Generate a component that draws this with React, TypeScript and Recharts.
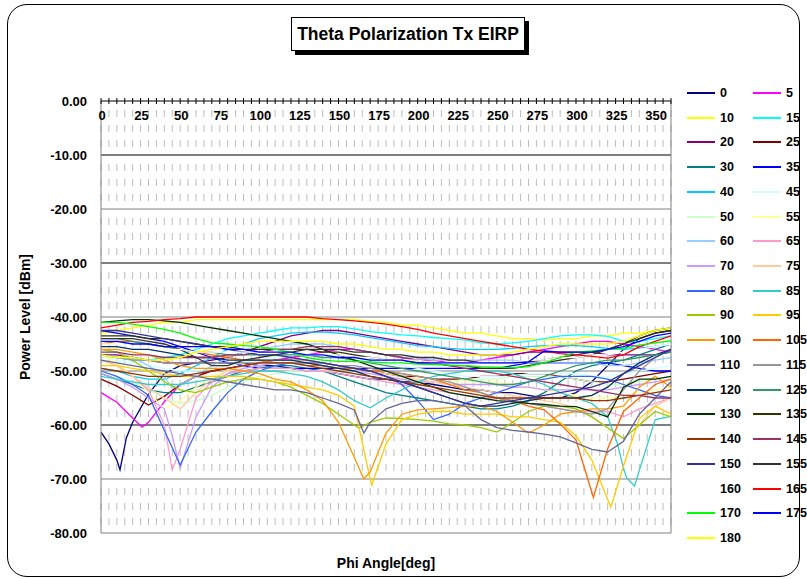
import { CartesianGrid, Line, LineChart, ReferenceLine, XAxis, YAxis } from "recharts";

const FONT = '"Liberation Sans", Arial, sans-serif';

// phi grid (deg) shared by all traces, 10 deg step
const PHI = [0, 10, 20, 30, 40, 50, 60, 70, 80, 90, 100, 110, 120, 130, 140, 150, 160, 170, 180, 190, 200, 210, 220, 230, 240, 250, 260, 270, 280, 290, 300, 310, 320, 330, 340, 350, 360];
const X_TICKS = Array.from({ length: 73 }, (_, i) => i * 5);
const X_LABELS = [0, 25, 50, 75, 100, 125, 150, 175, 200, 225, 250, 275, 300, 325, 350];
const Y_TICKS = [0, -10, -20, -30, -40, -50, -60, -70, -80];

const NAMES = ["0", "5", "10", "15", "20", "25", "30", "35", "40", "45", "50", "55", "60", "65", "70", "75", "80", "85", "90", "95", "100", "105", "110", "115", "120", "125", "130", "135", "140", "145", "150", "155", "160", "165", "170", "175", "180"];

const COLORS = ["#000080", "#FF00FF", "#FFFF00", "#00FFFF", "#800080", "#800000", "#008080", "#0000FF", "#00CCFF", "#CCFFFF", "#CCFFCC", "#FFFF99", "#99CCFF", "#FF99CC", "#CC99FF", "#FFCC99", "#3366FF", "#33CCCC", "#99CC00", "#FFCC00", "#FF9900", "#FF6600", "#666699", "#969696", "#003366", "#339966", "#003300", "#333300", "#993300", "#993366", "#333399", "#333333", "#FFFFFF", "#FF0000", "#00FF00", "#0000FF", "#FFFF00"];

// EIRP [dBm] per theta, on PHI
const s0 = [-61.3, -66.5, -59.5, -54.3, -50.5, -49, -48.5, -48.5, -48.5, -48.5, -49, -49, -49.5, -50, -50, -50.5, -51, -51.5, -51.5, -52, -52, -52.5, -53, -53.5, -53.5, -54, -54, -54.5, -55, -55, -54, -52, -49, -46, -44, -43, -42.5];
const s5 = [-54, -55.8, -58.7, -59.5, -55.7, -52.5, -51, -50, -49.5, -49, -48.5, -48, -47.5, -47, -46.5, -46, -46, -46.5, -47, -47.5, -48, -48, -48.5, -48.5, -48, -47.5, -47, -46.5, -46, -45.5, -45, -44.5, -44.5, -45, -45.5, -46, -46.5];
const s10 = [-43, -42.5, -42, -41.5, -41, -41, -40.5, -40.5, -40.5, -40.5, -40.5, -40.5, -40.5, -40.5, -40.5, -40.5, -40.5, -40.8, -41, -41.5, -41.5, -42, -42.5, -43, -43, -43.5, -44, -44, -44.3, -44, -44, -43.5, -43.5, -43, -43, -42.5, -42];
const s15 = [-47, -47.5, -48, -48, -47.5, -47, -46, -45, -44, -43.5, -43, -42.5, -42, -42, -41.8, -41.8, -42.2, -42.7, -43, -43.3, -43.5, -43.8, -44, -44.3, -44.8, -45, -44.8, -44.5, -44, -43.5, -43.3, -43.3, -43.6, -44.5, -44.5, -44, -43.5];
const s20 = [-47, -47, -47.5, -48, -48.5, -48.5, -48.5, -48, -47.5, -46.5, -45.5, -44.5, -43.5, -43, -42.5, -42.5, -43, -43.5, -44, -44.5, -45, -45.5, -46, -46.5, -47, -47, -47, -46.5, -46.5, -46.5, -46.5, -46.5, -47, -47, -47, -47, -46.5];
const s25 = [-51.5, -52.8, -54.5, -56.3, -54.7, -52.5, -51, -50, -49.5, -49, -48.5, -48, -48, -48, -48.5, -49, -49.5, -50, -50.5, -51, -51, -51.5, -51.5, -51.5, -51, -51, -50.5, -50.5, -50.5, -51, -51.5, -52, -52, -51.5, -51, -50.5, -50];
const s30 = [-50.5, -51.5, -52.5, -53.5, -54, -54, -53, -52, -51, -50, -49.5, -49, -49, -49.5, -50, -51, -52, -53, -54, -54.5, -55, -55.5, -56, -56.5, -57, -57, -56.5, -55.5, -54, -52, -50, -49, -48.5, -48, -47, -46, -45];
const s35 = [-42.5, -43, -43.5, -44, -44.5, -45.5, -46.5, -47.5, -48.5, -49, -49.5, -49.5, -49.5, -49.5, -49.5, -49.5, -49.5, -49.5, -49.5, -49.5, -49.5, -49.5, -49.5, -49.5, -49.5, -49.5, -49, -48.5, -48.5, -48.5, -48.5, -48.5, -48.5, -49, -49.5, -50, -50];
const s40 = [-49.5, -50, -51, -51.5, -51.5, -50.5, -49, -47.5, -46, -45, -44, -43.5, -43, -42.8, -42.8, -43, -43.3, -43.8, -44.3, -44.8, -45.3, -45.5, -45.8, -46, -46, -46, -45.8, -45.5, -45.3, -45.3, -45.3, -45.5, -45.8, -46, -45.8, -45.5, -45];
const s45 = [-47.5, -48, -48.5, -49, -49.5, -50, -50, -49.5, -49, -48.5, -48, -47.5, -47, -47, -47, -47, -47.5, -48, -48.5, -49, -49.5, -50, -50.5, -51, -51, -51, -51, -50.5, -50.5, -50.5, -50.5, -51, -51, -50.5, -50, -49.5, -49];
const s50 = [-50, -51, -52, -53.5, -55, -56, -55.5, -54.5, -53, -52, -51, -50.5, -50, -50, -50, -50, -50.5, -51, -51.5, -51.5, -52, -52, -52, -51.5, -51.5, -51.5, -51, -51, -51, -51, -51.5, -52, -52.5, -52.5, -52, -51.5, -51];
const s55 = [-47, -48.5, -51, -54, -57, -55.5, -53, -51, -50, -49.5, -49, -48.5, -48.5, -48.5, -49, -49.5, -50, -50.5, -51, -51.5, -52, -52, -52, -52, -52, -52, -52.5, -53, -53.5, -54, -54.5, -55, -55, -54.5, -54, -53.5, -53];
const s60 = [-46, -46.5, -47.5, -49, -51, -52.5, -51, -49, -47.5, -46.5, -46, -45.5, -45, -45, -45, -45.5, -46, -46.5, -47, -47.5, -47.5, -48, -48, -48, -48, -48, -48, -48.5, -48.5, -48.5, -48.5, -48.5, -49, -49, -48.5, -48, -47.5];
const s65 = [-48, -49, -51, -53.5, -60, -64.5, -55, -52, -50.5, -50, -49.5, -49.5, -49.5, -50, -50, -50.5, -51, -51.5, -52, -52.5, -53, -53.5, -54, -54.5, -55, -55, -55.5, -56, -56.5, -57, -57.5, -57.5, -57.5, -58.5, -57, -56, -55];
const s70 = [-50.5, -51.5, -53, -55, -57, -68, -58.5, -53, -50.5, -49.5, -49, -48.5, -48.5, -48.5, -49, -49.5, -50, -50.5, -51, -51.5, -52, -52, -52.5, -52.5, -52.5, -52.5, -53, -53, -53.5, -53.5, -53.5, -53.5, -53.5, -53, -52.5, -52, -51.5];
const s75 = [-48, -49, -51, -53, -55, -57, -54, -51.5, -50, -49, -48.5, -48, -48, -48, -48.5, -49, -49.5, -50, -50.5, -51, -51.5, -52, -52.5, -53, -53.5, -54, -54.5, -55, -55.5, -56, -57, -58.5, -60.5, -62.5, -60, -56.5, -55];
const s80 = [-50, -51, -52.5, -54.5, -61, -67.4, -61.3, -57.5, -54, -51.5, -50, -49, -48.5, -48.5, -48.5, -49, -49.5, -50, -51, -52.5, -55.5, -59, -58, -56, -55, -54, -53, -52, -51.5, -51, -51, -51, -51.5, -52.5, -53.5, -54.5, -55];
const s85 = [-51, -51.5, -52, -52.5, -52.5, -52.5, -52, -51.5, -51, -50.5, -50, -50, -50.5, -51, -52, -53.5, -55.5, -56.8, -55, -53.5, -52, -51, -50.5, -50, -50, -50, -50.5, -51.5, -52.5, -54, -55, -56, -58.5, -68, -68.4, -59, -58.4];
const s90 = [-46, -46.5, -48, -50, -52, -53.5, -54, -53, -52, -51.5, -51.5, -52, -53, -54.5, -56, -58, -60, -59.5, -58.7, -58.8, -59, -59.3, -59.8, -60, -60.5, -61.3, -59.5, -57.5, -56.5, -56.5, -57, -58.5, -60.5, -62.5, -60, -57.5, -58.5];
const s95 = [-49, -49, -49.5, -50, -50.5, -51, -51, -51, -51, -51, -51.5, -52, -52.5, -53, -53.5, -54.5, -56.5, -70, -63.5, -59, -58, -57.5, -57.5, -58, -58, -58, -58.5, -58.5, -59, -59.5, -62, -66.5, -73.8, -67.6, -58.8, -56.5, -58];
const s100 = [-46, -46, -46.5, -47, -48, -49, -49.5, -49.5, -49.5, -50, -50.5, -51.5, -52, -53.5, -55.5, -59.5, -66, -68.7, -61.5, -58, -57.2, -57, -56.8, -56.5, -56.5, -57.5, -59.5, -61.5, -60, -58, -57.5, -57, -57, -56.5, -53, -51, -53];
const s105 = [-45, -44.5, -44.5, -45, -45.5, -46, -46.5, -47, -47.5, -48, -48, -48.5, -48.5, -49, -49, -49.5, -49.5, -50, -50, -50.5, -51, -51.5, -52.5, -53.5, -54, -55, -55.5, -56.5, -57.2, -59.8, -62.8, -72.5, -64.4, -57.5, -55, -52.5, -51.5];
const s110 = [-48, -48.5, -49, -49.5, -50, -50.5, -51, -51.5, -52, -52.5, -53, -53.5, -53.5, -54, -55, -56, -57.2, -59.5, -57, -56, -55.5, -55.5, -56, -56.5, -59, -60.5, -61, -61.3, -61.7, -62.2, -63.3, -64.5, -65, -63, -58, -55, -52];
const s115 = [-47, -47.5, -48, -48, -48.5, -48.5, -48.5, -48.5, -48.5, -48.5, -48.5, -48.5, -48.5, -48.5, -48.5, -49, -49, -49.5, -50, -50.5, -51, -51.5, -52, -53, -54, -55, -55.5, -56, -56.5, -57, -57.5, -58, -57, -53.5, -50, -47.5, -46];
const s120 = [-45.5, -45.5, -46, -46, -46.5, -47, -47.5, -47.5, -48, -48, -48, -48, -48, -48.5, -49, -49.5, -50, -51, -51.5, -52, -53, -54, -55, -56, -56.5, -56.5, -56, -55.5, -55, -55, -55, -54.5, -53, -50.5, -48.5, -47, -46];
const s125 = [-44, -44, -44.5, -45, -45.5, -46, -46.5, -46.5, -47, -47, -47, -47, -47, -47, -47.5, -47.5, -48, -48.5, -49, -49.5, -50, -50.5, -51, -51.5, -52, -52.5, -52.5, -52, -51, -50, -49, -48.5, -48, -48, -47.5, -47, -46.5];
const s130 = [-41, -40.7, -40.5, -40.5, -40.7, -41, -41.5, -42, -42.5, -43, -43.5, -44, -44.5, -45, -46, -47, -48, -49, -50, -51, -52, -53, -54, -54.5, -55, -55.5, -55.7, -56, -56.2, -56.5, -56.6, -57.5, -58.5, -53, -51.5, -51.5, -51];
const s135 = [-43.5, -43.5, -43.5, -44, -44, -44.5, -45, -45.5, -45.5, -46, -46, -46, -46, -46, -46.5, -46.5, -47, -47.5, -48, -48, -48.5, -48.5, -49, -49, -49.5, -49.5, -49.5, -49, -48.5, -48, -47.5, -47, -46, -45, -44, -43, -42.5];
const s140 = [-49.5, -50, -50.5, -51, -51, -51, -50.5, -50, -49.5, -49, -48.5, -48.5, -48.5, -49, -49.5, -50, -50.5, -51, -51.5, -52, -52.5, -53, -53.5, -54, -54.5, -55, -55, -55, -55, -55, -55, -55.5, -55.5, -55, -54.5, -54, -53.5];
const s145 = [-46.5, -46.5, -47, -47, -47.5, -47.5, -47.5, -47.5, -47, -47, -46.5, -46, -46, -45.5, -45.5, -45.5, -46, -46.5, -47, -47.5, -48, -48.5, -49, -49.5, -50, -50.5, -51, -51.5, -52, -52.5, -53, -53.5, -54, -54.5, -54.5, -55, -55];
const s150 = [-42.5, -42.5, -43, -43.5, -44, -44.5, -45, -45.5, -46, -46.5, -47, -47, -47.5, -48, -48.5, -49, -49.5, -50, -51, -52, -53, -54, -55, -56, -56.5, -56, -55.5, -55, -54.5, -54, -53.5, -53, -52, -50.5, -49, -47.5, -46];
const s155 = [-44, -44, -44, -44.5, -45, -46, -47.5, -49, -49, -48, -47.5, -47, -46.5, -46, -46, -46, -46.5, -46.5, -47, -47, -47.5, -47.5, -48, -48, -48.5, -48.5, -48.5, -48.3, -48, -47.5, -47, -46.5, -46, -45, -43.5, -42.5, -42];
const s160 = [-45, -45, -45.5, -45.5, -46, -46, -46.5, -46.5, -46.5, -46.5, -46.5, -46.5, -46.5, -47, -47, -47, -47.5, -47.5, -48, -48, -48, -48.5, -48.5, -48.5, -48.5, -48.5, -48.5, -48, -48, -47.5, -47.5, -47, -47, -46.5, -46, -45.5, -45];
const s165 = [-42, -41.5, -41, -40.8, -40.5, -40.3, -40, -40, -40, -40, -40, -40, -40, -40, -40.3, -40.5, -40.7, -41, -41.3, -41.8, -42.3, -43, -43.5, -44, -44.5, -45, -45.5, -46, -46.3, -46.8, -47, -47.3, -47.6, -47, -45.5, -44.5, -43.5];
const s170 = [-41, -41, -41.3, -41.8, -42.3, -43, -44, -44.8, -45, -45.3, -45.5, -46, -46.5, -47.5, -48, -48.2, -48.2, -48.3, -48.5, -48.5, -48.7, -48.8, -48.9, -49, -49.2, -49.3, -49.4, -49.2, -48.5, -47.5, -46.5, -46.3, -46, -45.8, -45.2, -44.8, -44.4];
const s175 = [-44.5, -44.5, -45, -45, -45.5, -45.5, -45.5, -45.5, -46, -46, -46.5, -46.5, -46.5, -47, -47, -47.5, -47.5, -48, -48, -48, -48.5, -48.5, -48.5, -48.5, -48.5, -48.5, -48.5, -48.3, -46.3, -46.5, -46.5, -46.5, -46, -45.5, -44.5, -43.5, -43];
const s180 = [-47, -47.5, -47.5, -48, -48, -47.5, -46.5, -46, -45.5, -45, -44.5, -44.5, -44.5, -44.5, -44.5, -45, -45, -45.5, -46, -46, -46.5, -46.5, -47, -47, -47, -47, -46.5, -46, -45.5, -45, -45, -45, -45, -44.5, -43.5, -42.5, -42];

// off-grid samples around the nulls: [phi, dBm]
const s0x = [[5, -63.5], [12, -68.3], [16, -62.4]];
const s5x = [[26, -60.4]];
const s60x = [[45, -53.2]];
const s65x = [[45, -68.3]];
const s70x = [[45, -62]];
const s85x = [[326, -63.3], [332, -69.8], [337, -71.3]];
const s90x = [[163, -60.6]];
const s95x = [[171, -71.1], [322, -75.2]];
const s100x = [[166, -70]];
const s105x = [[311, -73.4]];
const s110x = [[166, -61.5]];

const VALUES = [s0, s5, s10, s15, s20, s25, s30, s35, s40, s45, s50, s55, s60, s65, s70, s75, s80, s85, s90, s95, s100, s105, s110, s115, s120, s125, s130, s135, s140, s145, s150, s155, s160, s165, s170, s175, s180];
const EXTRAS: Record<string, number[][]> = { "0": s0x, "5": s5x, "60": s60x, "65": s65x, "70": s70x, "85": s85x, "90": s90x, "95": s95x, "100": s100x, "105": s105x, "110": s110x };

function toRows(vals: number[], extra: number[][] = []) {
  const rows = PHI.map((phi, i) => ({ phi, v: vals[i] }));
  extra.forEach(([phi, v]) => rows.push({ phi, v }));
  return rows.sort((a, b) => a.phi - b.phi);
}

const SERIES = NAMES.map((name, i) => ({
  name,
  color: COLORS[i],
  data: toRows(VALUES[i], EXTRAS[name]),
}));

const GRID_DARK = [-10, -30, -60];
const GRID_LIGHT = [-20, -40, -50, -70];

// top axis: "+" marks every 5 deg, labels below the line every 25 deg
function PhiTick(props: any) {
  const { x, y, payload } = props;
  const v = payload.value;
  return (
    <g>
      <line x1={x} x2={x} y1={y - 3} y2={y + 3} stroke="#000" strokeWidth={1} />
      {X_LABELS.includes(v) && (
        <text x={x + 1} y={y + 19} textAnchor="middle" fontSize={13} fontWeight={700} fontFamily={FONT} fill="#000">
          {v}
        </text>
      )}
    </g>
  );
}

export default function App() {
  const rowH = 24.72;
  return (
    <div style={{ position: "relative", width: 807, height: 579, background: "#fff", overflow: "hidden", fontFamily: FONT }}>
      <style>{"body{margin:0}"}</style>
      <div
        style={{
          position: "absolute",
          left: 7,
          top: 4,
          width: 791,
          height: 571,
          border: "1.5px solid #000",
          borderRadius: 20,
        }}
      />
      <div style={{ position: "absolute", left: 0, top: 0 }}>
        <LineChart width={807} height={579} margin={{ top: 81, right: 136, bottom: 46, left: 0 }}>
          <CartesianGrid horizontal={false} stroke="#bdbdbd" strokeDasharray="0 9 7 8 7 8 7 8" />
          <YAxis
            type="number"
            domain={[-80, 0]}
            ticks={Y_TICKS}
            interval={0}
            width={101}
            tickLine={false}
            tickSize={0}
            tickMargin={14}
            axisLine={{ stroke: "#808080" }}
            tickFormatter={(v: number) => v.toFixed(2)}
            tick={{ fill: "#000", fontSize: 13, fontWeight: 700, fontFamily: FONT }}
          />
          {GRID_LIGHT.map((v) => (
            <ReferenceLine key={"l" + v} y={v} stroke="#808080" strokeWidth={1} />
          ))}
          {GRID_DARK.map((v) => (
            <ReferenceLine key={"d" + v} y={v} stroke="#000" strokeWidth={1} />
          ))}
          <ReferenceLine y={-80} stroke="#808080" strokeWidth={1} />
          <ReferenceLine x={360} stroke="#808080" strokeWidth={1} />
          {SERIES.map((s) => (
            <Line
              key={s.name}
              data={s.data}
              dataKey="v"
              name={s.name}
              type="linear"
              stroke={s.color}
              strokeWidth={1.3}
              dot={false}
              activeDot={false}
              isAnimationActive={false}
            />
          ))}
          <XAxis
            dataKey="phi"
            type="number"
            orientation="top"
            domain={[0, 360]}
            ticks={X_TICKS}
            interval={0}
            height={20}
            tickSize={0}
            tickMargin={0}
            tickLine={false}
            axisLine={{ stroke: "#000", strokeWidth: 1 }}
            tick={(p: any) => <PhiTick {...p} />}
            allowDuplicatedCategory={false}
          />
        </LineChart>
      </div>

      <div
        style={{
          position: "absolute",
          left: 291,
          top: 17,
          width: 232,
          height: 32,
          border: "1px solid #000",
          background: "#fff",
          boxShadow: "4px 4px 0 #000",
          textAlign: "center",
          lineHeight: "32px",
          fontSize: 17.5,
          fontWeight: 700,
          color: "#000",
          whiteSpace: "nowrap",
        }}
      >
        Theta Polarization Tx EIRP
      </div>

      <div
        style={{
          position: "absolute",
          left: 25 - 110,
          top: 317 - 10,
          width: 220,
          height: 20,
          lineHeight: "20px",
          textAlign: "center",
          transform: "rotate(-90deg)",
          fontSize: 14,
          fontWeight: 700,
          color: "#000",
          whiteSpace: "nowrap",
        }}
      >
        Power Level [dBm]
      </div>

      <div
        style={{
          position: "absolute",
          left: 386 - 110,
          top: 563 - 10,
          width: 220,
          height: 20,
          lineHeight: "20px",
          textAlign: "center",
          fontSize: 14,
          fontWeight: 700,
          color: "#000",
          whiteSpace: "nowrap",
        }}
      >
        Phi Angle[deg]
      </div>

      {SERIES.map((s, i) => {
        const row = Math.floor(i / 2);
        const col = i % 2;
        const left = col === 0 ? 687 : 753;
        const top = 93 + row * rowH;
        return (
          <div key={s.name} style={{ position: "absolute", left, top: top - 8, height: 16, display: "flex", alignItems: "center" }}>
            <div style={{ width: 28, height: 2, background: s.color }} />
            <span style={{ marginLeft: 5, fontSize: 12.5, fontWeight: 700, color: "#000", lineHeight: "16px" }}>{s.name}</span>
          </div>
        );
      })}
    </div>
  );
}
